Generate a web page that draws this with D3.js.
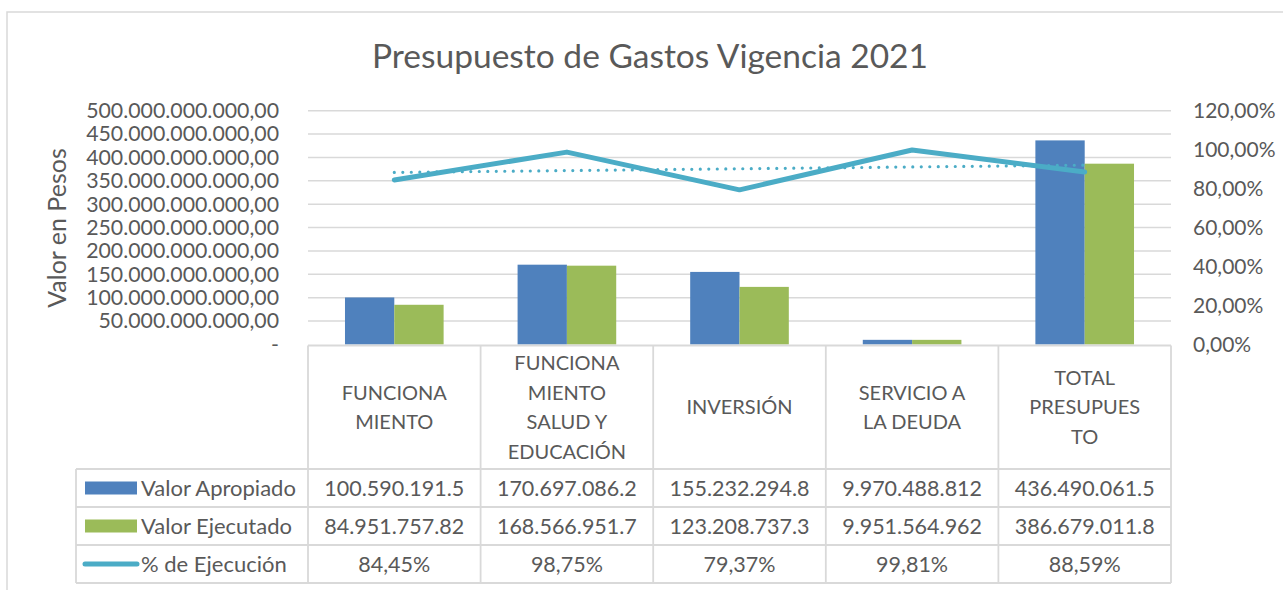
<!DOCTYPE html>
<html>
<head>
<meta charset="utf-8">
<script src="https://cdn.jsdelivr.net/npm/d3@7"></script>
<style>
  body { margin: 0; background: #fff; }
  text { font-family: Lato, "Open Sans", sans-serif; fill: #595959; }
</style>
</head>
<body>
<div class="visData"></div>
<script>
const w = 1283;
const h = 590;

// data
const categories = [
  ["FUNCIONA", "MIENTO"],
  ["FUNCIONA", "MIENTO", "SALUD Y", "EDUCACIÓN"],
  ["INVERSIÓN"],
  ["SERVICIO A", "LA DEUDA"],
  ["TOTAL", "PRESUPUES", "TO"]
];
const apropiado = [100590191500, 170697086200, 155232294800, 9970488812, 436490061500];
const ejecutado = [84951757820, 168566951700, 123208737300, 9951564962, 386679011800];
const ejecucion = [0.8445, 0.9875, 0.7937, 0.9981, 0.8859];
const seriesNames = ["Valor Apropiado", "Valor Ejecutado", "% de Ejecución"];
const leftTicks = [0, 5e10, 1e11, 1.5e11, 2e11, 2.5e11, 3e11, 3.5e11, 4e11, 4.5e11, 5e11];
const rightTicks = [0, 0.2, 0.4, 0.6, 0.8, 1.0, 1.2];

const blue = "#4f81bd";
const green = "#9bbb59";
const teal = "#4bacc6";
const grid = "#d9d9d9";

const plotLeft = 308;
const plotRight = 1171;
const plotTop = 110.7;
const plotBottom = 344.5;
const tableLeft = 76;
const rowLines = [469, 507, 545, 583];

const locale = d3.formatLocale({ decimal: ",", thousands: ".", grouping: [3], currency: ["$", ""] });
const fmtLeft = (d) => (d === 0 ? "-" : locale.format(",.2f")(d));
const fmtPct = locale.format(",.2%");
// cells are too narrow, so the numbers get clipped like in the sheet
const fmtCell = (d) => locale.format(",.0f")(d).slice(0, 13);

const svg = d3
  .select(".visData")
  .append("svg")
  .attr("width", w)
  .attr("height", h);

svg.append("rect").attr("width", w).attr("height", h).attr("fill", "#fff");

// chart border
svg
  .append("rect")
  .attr("x", 7)
  .attr("y", 12)
  .attr("width", w + 20)
  .attr("height", h + 20)
  .attr("fill", "none")
  .attr("stroke", grid)
  .attr("stroke-width", 1.5);

//scales
const xScale = d3
  .scaleBand()
  .domain(d3.range(categories.length))
  .range([plotLeft, plotRight]);

const groupWidth = xScale.bandwidth() / 1.75;
const xSub = d3
  .scaleBand()
  .domain([0, 1])
  .range([-groupWidth / 2, groupWidth / 2]);

const yLeft = d3.scaleLinear().domain([0, 5e11]).range([plotBottom, plotTop]);
const yRight = d3.scaleLinear().domain([0, 1.2]).range([plotBottom, plotTop]);

// title
svg
  .append("text")
  .attr("x", 650)
  .attr("y", 68)
  .attr("text-anchor", "middle")
  .style("font-size", "33.5px")
  .text("Presupuesto de Gastos Vigencia 2021");

// gridlines
svg
  .append("g")
  .selectAll("line")
  .data(leftTicks.filter((d) => d > 0))
  .enter()
  .append("line")
  .attr("x1", plotLeft)
  .attr("x2", plotRight)
  .attr("y1", (d) => yLeft(d))
  .attr("y2", (d) => yLeft(d))
  .attr("stroke", grid)
  .attr("stroke-width", 1.5);

// axes
const leftAxis = svg
  .append("g")
  .attr("transform", `translate(${plotLeft},0)`)
  .call(d3.axisLeft(yLeft).tickValues(leftTicks).tickFormat(fmtLeft).tickSize(0).tickPadding(29));
leftAxis.select(".domain").remove();
leftAxis.selectAll("text").style("font-size", "21.3px").attr("fill", "#595959").style("font-family", "Lato");

const rightAxis = svg
  .append("g")
  .attr("transform", `translate(${plotRight},0)`)
  .call(d3.axisRight(yRight).tickValues(rightTicks).tickFormat(fmtPct).tickSize(0).tickPadding(22));
rightAxis.select(".domain").remove();
rightAxis.selectAll("text").style("font-size", "21px").attr("fill", "#595959").style("font-family", "Lato");

svg
  .append("text")
  .attr("transform", `translate(66,228) rotate(-90)`)
  .attr("text-anchor", "middle")
  .style("font-size", "25px")
  .text("Valor en Pesos");

// bars
const barSeries = [apropiado, ejecutado];
const barColours = [blue, green];
barSeries.forEach((values, s) => {
  svg
    .append("g")
    .selectAll("rect")
    .data(values)
    .enter()
    .append("rect")
    .attr("x", (d, i) => xScale(i) + xScale.bandwidth() / 2 + xSub(s))
    .attr("y", (d) => yLeft(d))
    .attr("width", xSub.bandwidth())
    .attr("height", (d) => yLeft(0) - yLeft(d))
    .attr("fill", barColours[s]);
});

// % line
const cx = (i) => xScale(i) + xScale.bandwidth() / 2;
const line = d3
  .line()
  .x((d, i) => cx(i))
  .y((d) => yRight(d));

svg
  .append("path")
  .datum(ejecucion)
  .attr("d", line)
  .attr("fill", "none")
  .attr("stroke", teal)
  .attr("stroke-width", 5)
  .attr("stroke-linejoin", "round")
  .attr("stroke-linecap", "round");

// linear trendline of the % series
const xs = d3.range(ejecucion.length);
const mx = d3.mean(xs);
const my = d3.mean(ejecucion);
const slope =
  d3.sum(xs, (x, i) => (x - mx) * (ejecucion[i] - my)) / d3.sum(xs, (x) => (x - mx) * (x - mx));
const trend = [0, xs.length - 1].map((x) => ({ i: x, v: my + slope * (x - mx) }));

svg
  .append("path")
  .datum(trend)
  .attr("d", d3.line().x((d) => cx(d.i)).y((d) => yRight(d.v)))
  .attr("fill", "none")
  .attr("stroke", teal)
  .attr("stroke-width", 3.2)
  .attr("stroke-linecap", "round")
  .attr("stroke-dasharray", "0 8.5");

// data table
const table = svg.append("g");
const tableLine = (x1, y1, x2, y2) =>
  table
    .append("line")
    .attr("x1", x1)
    .attr("y1", y1)
    .attr("x2", x2)
    .attr("y2", y2)
    .attr("stroke", grid)
    .attr("stroke-width", 1.8);

tableLine(plotLeft, plotBottom + 1, plotRight, plotBottom + 1);
rowLines.forEach((y) => tableLine(tableLeft, y, plotRight, y));
tableLine(tableLeft, rowLines[0], tableLeft, rowLines[3]);
d3.range(categories.length + 1).forEach((i) => {
  const x = i < categories.length ? xScale(i) : plotRight;
  tableLine(x, plotBottom + 1, x, rowLines[3]);
});

// header labels
const headTop = plotBottom + 1;
const headMid = (headTop + rowLines[0]) / 2;
const lineGap = 29.5;
categories.forEach((lines, i) => {
  table
    .append("g")
    .selectAll("text")
    .data(lines)
    .enter()
    .append("text")
    .attr("x", cx(i))
    .attr("y", (d, k) => headMid + (k - (lines.length - 1) / 2) * lineGap)
    .attr("dy", "0.35em")
    .attr("text-anchor", "middle")
    .style("font-size", "20px")
    .text((d) => d);
});

// rows
const rows = [
  { name: seriesNames[0], values: apropiado.map(fmtCell), key: "rect", colour: blue },
  { name: seriesNames[1], values: ejecutado.map(fmtCell), key: "rect", colour: green },
  { name: seriesNames[2], values: ejecucion.map(fmtPct), key: "line", colour: teal }
];

rows.forEach((row, r) => {
  const yMid = (rowLines[r] + rowLines[r + 1]) / 2;
  if (row.key === "rect") {
    table
      .append("rect")
      .attr("x", 85)
      .attr("y", yMid - 6.5)
      .attr("width", 52)
      .attr("height", 13)
      .attr("fill", row.colour);
  } else {
    table
      .append("line")
      .attr("x1", 85)
      .attr("x2", 137)
      .attr("y1", yMid)
      .attr("y2", yMid)
      .attr("stroke", row.colour)
      .attr("stroke-width", 5)
      .attr("stroke-linecap", "round");
  }
  table
    .append("text")
    .attr("x", 141)
    .attr("y", yMid)
    .attr("dy", "0.35em")
    .style("font-size", "22px")
    .text(row.name);

  table
    .append("g")
    .selectAll("text")
    .data(row.values)
    .enter()
    .append("text")
    .attr("x", (d, i) => cx(i))
    .attr("y", yMid)
    .attr("dy", "0.35em")
    .attr("text-anchor", "middle")
    .style("font-size", "21.5px")
    .text((d) => d);
});
</script>
</body>
</html>
